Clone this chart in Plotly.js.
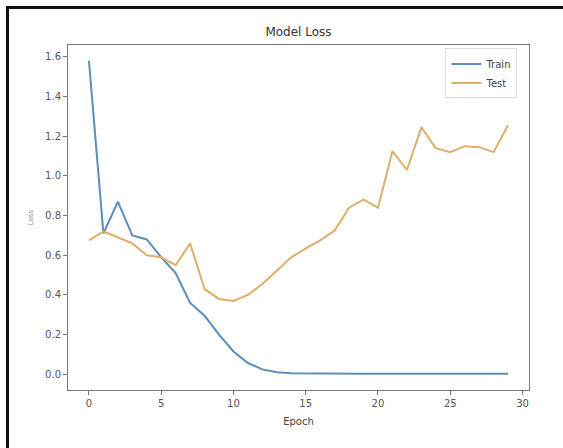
<!DOCTYPE html>
<html>
<head>
<meta charset="utf-8">
<script src="https://cdn.plot.ly/plotly-3.0.1.min.js"></script>
<style>
  html, body { margin: 0; padding: 0; background: #ffffff; }
  #chart { width: 563px; height: 448px; position: absolute; left: 0; top: 0; }
  #frame { position: absolute; left: 6px; top: 6px; width: 557px; height: 442px;
           border-left: 3px solid #111; border-top: 3px solid #111; pointer-events: none; }
</style>
</head>
<body>
<div id="chart"></div>
<div id="frame"></div>
<script>
const epochs = [0,1,2,3,4,5,6,7,8,9,10,11,12,13,14,15,16,17,18,19,20,21,22,23,24,25,26,27,28,29];
const trainLoss = [1.58,0.71,0.87,0.70,0.68,0.59,0.51,0.36,0.295,0.20,0.115,0.057,0.025,0.01,0.005,0.004,0.003,0.003,0.003,0.003,0.003,0.003,0.003,0.003,0.003,0.003,0.003,0.003,0.003,0.003];
const testLoss = [0.675,0.72,0.69,0.66,0.60,0.59,0.55,0.66,0.43,0.38,0.37,0.40,0.455,0.52,0.59,0.635,0.675,0.725,0.84,0.88,0.84,1.125,1.03,1.245,1.14,1.12,1.15,1.145,1.12,1.255];
const seriesNames = ["Train", "Test"];
const xTicks = [0,5,10,15,20,25,30];
const yTicks = [0,0.2,0.4,0.6,0.8,1.0,1.2,1.4,1.6];

const traces = [
  { x: epochs, y: trainLoss, name: seriesNames[0], type: "scatter", mode: "lines",
    line: { color: "#5b8fba", width: 2 } },
  { x: epochs, y: testLoss, name: seriesNames[1], type: "scatter", mode: "lines",
    line: { color: "#ddae6a", width: 2 } }
];

const axisCommon = {
  showgrid: false, zeroline: false, showline: true, mirror: true,
  linecolor: "#777", linewidth: 1, ticks: "outside", ticklen: 4,
  tickcolor: "#777", tickfont: { family: "DejaVu Sans", size: 10, color: "#555" }
};

const layout = {
  width: 563, height: 448,
  margin: { l: 68, r: 34, t: 45, b: 58 },
  paper_bgcolor: "#ffffff", plot_bgcolor: "#ffffff",
  title: { text: "Model Loss", x: 0.5, xref: "paper", y: 0.93, yref: "container",
           yanchor: "middle",
           font: { family: "DejaVu Sans", size: 12, color: "#333" } },
  xaxis: Object.assign({}, axisCommon, {
    range: [-1.45, 30.45], tickvals: xTicks,
    title: { text: "Epoch", standoff: 9, font: { family: "DejaVu Sans", size: 10, color: "#444" } }
  }),
  yaxis: Object.assign({}, axisCommon, {
    range: [-0.079, 1.66], tickvals: yTicks, tickformat: ".1f",
    title: { text: "Loss", standoff: 10, font: { family: "DejaVu Sans", size: 7, color: "#888" } }
  }),
  showlegend: true,
  legend: {
    x: 0.975, y: 0.99, xanchor: "right", yanchor: "top",
    bgcolor: "rgba(255,255,255,0.9)", bordercolor: "#ddd", borderwidth: 1,
    font: { family: "DejaVu Sans", size: 10, color: "#444" },
    itemwidth: 30, tracegroupgap: 0
  }
};

Plotly.newPlot("chart", traces, layout, { displayModeBar: false, staticPlot: true });
</script>
</body>
</html>
